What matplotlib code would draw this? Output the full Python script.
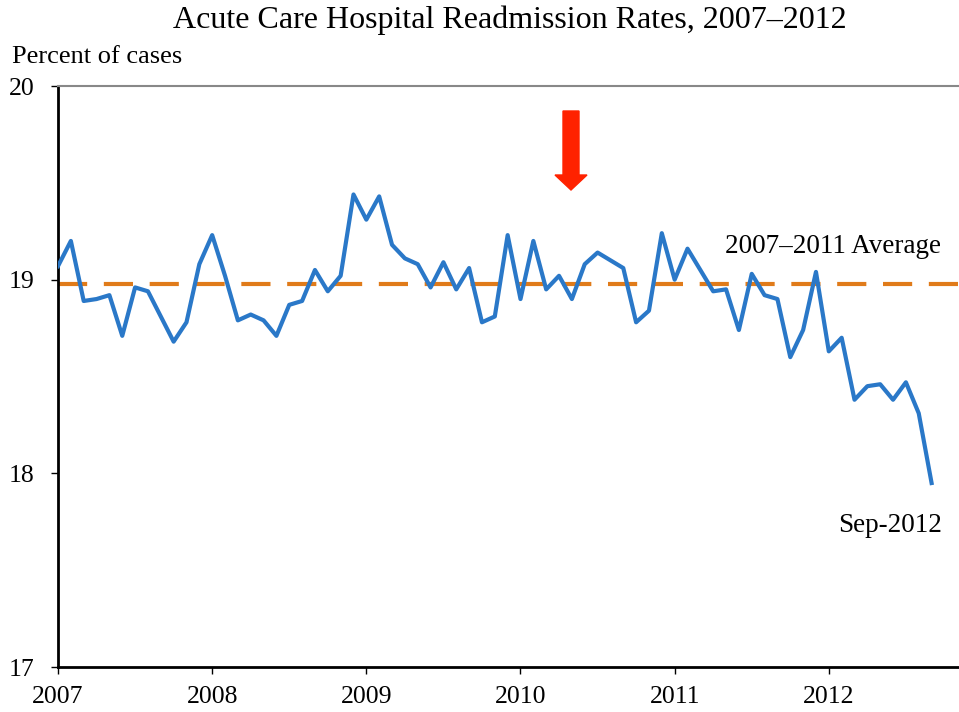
import numpy as np
import matplotlib
matplotlib.use("Agg")
import matplotlib.pyplot as plt
from matplotlib.patches import Polygon
from matplotlib.transforms import IdentityTransform

# monthly readmission rates, Jan 2007 - Sep 2012
rate_2007 = [19.07, 19.20, 18.89, 18.90, 18.92, 18.71, 18.96, 18.94, 18.81, 18.68, 18.78, 19.08]
rate_2008 = [19.23, 19.02, 18.79, 18.82, 18.79, 18.71, 18.87, 18.89, 19.05, 18.94, 19.02, 19.44]
rate_2009 = [19.31, 19.43, 19.18, 19.11, 19.08, 18.96, 19.09, 18.95, 19.06, 18.78, 18.81, 19.23]
rate_2010 = [18.90, 19.20, 18.95, 19.02, 18.90, 19.08, 19.14, 19.10, 19.06, 18.78, 18.84, 19.24]
rate_2011 = [19.00, 19.16, 19.05, 18.94, 18.95, 18.74, 19.03, 18.92, 18.90, 18.60, 18.74, 19.04]
rate_2012 = [18.63, 18.70, 18.38, 18.45, 18.46, 18.38, 18.47, 18.31, 17.95]
average_0711 = 18.98

years = [2007, 2008, 2009, 2010, 2011, 2012]
yticks = [17, 18, 19, 20]

rates = rate_2007 + rate_2008 + rate_2009 + rate_2010 + rate_2011 + rate_2012
x = 2007 + np.arange(len(rates)) / 12.0

plt.rcParams['font.family'] = ['Liberation Serif', 'DejaVu Serif']

fig = plt.figure(figsize=(9.59, 7.12), dpi=100)
ax = fig.add_axes([0.0605, 0.0632, 0.9645, 0.816])

ax.axhline(average_0711, color='#e07b1a', lw=3, dashes=(7, 4), zorder=2)
ax.plot(x, rates, color='#2a78c8', lw=3, zorder=3)

ax.set_xlim(2007, 2013)
ax.set_ylim(17, 20)
ax.set_xticks(years)
ax.set_xticklabels([str(y) for y in years])
ax.set_yticks(yticks)
ax.tick_params(axis='both', labelsize=18.5, length=5, width=1, direction='out')
ax.tick_params(axis='x', pad=9)
ax.tick_params(axis='y', pad=12)

for s in ['left', 'bottom']:
    ax.spines[s].set_linewidth(2)
    ax.spines[s].set_color('black')
ax.spines['top'].set_color('#888888')
ax.spines['top'].set_linewidth(1.5)
ax.spines['right'].set_visible(False)

ax.text(2012.03, 19.17, '2007\u20132011 Average', fontsize=19.5, ha='center', va='center')
ax.text(2012.4, 17.73, 'Sep-2012', fontsize=19.5, ha='center', va='center')

fig.text(0.532, 0.972, 'Acute Care Hospital Readmission Rates, 2007\u20132012',
         fontsize=23, ha='center', va='center')
fig.text(0.013, 0.92, 'Percent of cases', fontsize=19, ha='left', va='center')

# red arrow pointing down (pixel coords, origin bottom-left)
H = 712
arrow = [(563, H - 111), (579, H - 111), (579, H - 175), (587, H - 175),
         (571, H - 190), (555, H - 175), (563, H - 175)]
fig.patches.append(Polygon(arrow, closed=True, color='#ff2200',
                           transform=IdentityTransform(), figure=fig))

fig.savefig('out.png', dpi=100)
